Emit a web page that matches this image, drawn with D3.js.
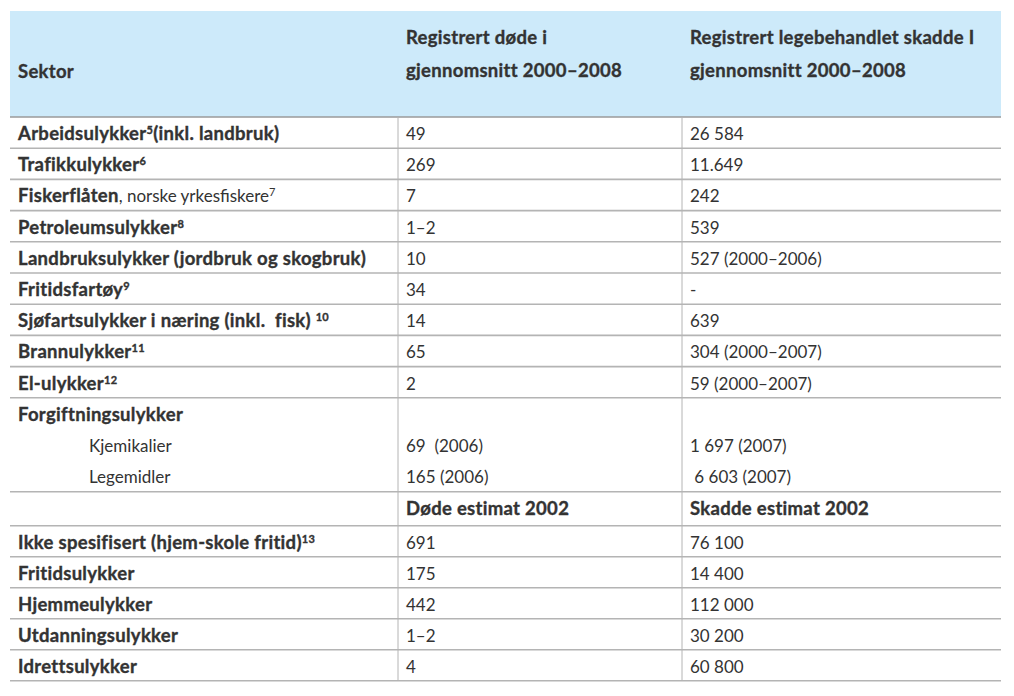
<!DOCTYPE html>
<html>
<head>
<meta charset="utf-8">
<script src="https://cdnjs.cloudflare.com/ajax/libs/d3/7.8.5/d3.min.js"></script>
<style>
  body { margin: 0; background: #fff; }
  text { font-family: Lato, "Open Sans", sans-serif; fill: #333; white-space: pre; }
  .b { font-weight: bold; font-size: 18.5px; letter-spacing: 0.3px; stroke: #333; stroke-width: 0.35px; }
  .r { font-weight: normal; font-size: 17px; letter-spacing: 0; stroke: none; }
</style>
</head>
<body>
<script>
// Header texts
const headSector = "Sektor";
const headDeaths = ["Registrert døde i", "gjennomsnitt 2000–2008"];
const headInjuries = ["Registrert legebehandlet skadde I", "gjennomsnitt 2000–2008"];

// Registered 2000-2008
const sectors = ["Arbeidsulykker", "Trafikkulykker", "Fiskerflåten", "Petroleumsulykker",
                 "Landbruksulykker (jordbruk og skogbruk)", "Fritidsfartøy",
                 "Sjøfartsulykker i næring (inkl.  fisk) ", "Brannulykker", "El-ulykker"];
const sectorNotes = ["5", "6", "7", "8", "", "9", "10", "11", "12"];
const sectorTails = ["(inkl. landbruk)", "", "", "", "", "", "", "", ""];
const sectorExtra = ["", "", ", norske yrkesfiskere", "", "", "", "", "", ""];
const deaths = ["49", "269", "7", "1–2", "10", "34", "14", "65", "2"];
const injuries = ["26 584", "11.649", "242", "539", "527 (2000–2006)", "-", "639",
                  "304 (2000–2007)", "59 (2000–2007)"];

// Poisoning group
const poisonHead = "Forgiftningsulykker";
const poisonItems = ["Kjemikalier", "Legemidler"];
const poisonDeaths = ["69  (2006)", "165 (2006)"];
const poisonInjuries = ["1 697 (2007)", " 6 603 (2007)"];

// Estimates 2002
const estHead = ["Døde estimat 2002", "Skadde estimat 2002"];
const estSectors = ["Ikke spesifisert (hjem-skole fritid)", "Fritidsulykker", "Hjemmeulykker",
                    "Utdanningsulykker", "Idrettsulykker"];
const estNotes = ["13", "", "", "", ""];
const estDeaths = ["691", "175", "442", "1–2", "4"];
const estInjuries = ["76 100", "14 400", "112 000", "30 200", "60 800"];

const width = 1014, height = 696;
const left = 10, right = 1001, headTop = 11, headBottom = 117;
const rowH = 31.2, groupH = 94, subH = 34, estH = 31;

// build row list
const rows = [];
sectors.forEach(function (s, i) {
  rows.push({ type: "row", label: s, note: sectorNotes[i], tail: sectorTails[i], extra: sectorExtra[i],
              c2: deaths[i], c3: injuries[i], h: rowH });
});
rows.push({ type: "group", h: groupH });
rows.push({ type: "sub", h: subH });
estSectors.forEach(function (s, i) {
  rows.push({ type: "row", label: s, note: estNotes[i], tail: "", extra: "",
              c2: estDeaths[i], c3: estInjuries[i], h: estH });
});

const tops = [headBottom].concat(Array.from(d3.cumsum(rows, function (d) { return d.h; }), function (v) { return headBottom + v; }));
const yRow = d3.scaleOrdinal().domain(d3.range(rows.length + 1)).range(tops);

const x = d3.scaleOrdinal().domain(["c1", "c2", "c3"]).range([left, 398, 682]);
const pad = { c1: 8, c2: 8, c3: 8 };

const svg = d3.select("body").append("svg")
  .attr("width", width)
  .attr("height", height);

// header
svg.append("rect")
  .attr("x", left).attr("y", headTop)
  .attr("width", right - left).attr("height", headBottom - headTop)
  .attr("fill", "#cdeafa");

svg.append("text").attr("class", "b")
  .attr("x", x("c1") + pad.c1).attr("y", 78)
  .text(headSector);

[["c2", headDeaths], ["c3", headInjuries]].forEach(function (h) {
  svg.append("g").selectAll("text")
    .data(h[1]).enter().append("text").attr("class", "b")
    .attr("x", x(h[0]) + pad[h[0]])
    .attr("y", function (d, i) { return 44 + i * 33; })
    .text(function (d) { return d; });
});

// grid lines
const lines = svg.append("g");
lines.selectAll("line.h")
  .data(tops.slice(1)).enter().append("line")
  .attr("x1", left).attr("x2", right)
  .attr("y1", function (d) { return d; }).attr("y2", function (d) { return d; })
  .attr("stroke", "#b4b4b4").attr("stroke-width", 1.6);
lines.append("line")
  .attr("x1", left).attr("x2", right).attr("y1", headBottom).attr("y2", headBottom)
  .attr("stroke", "#9a9a9a").attr("stroke-width", 1.6);
lines.selectAll("line.v")
  .data(["c2", "c3"]).enter().append("line")
  .attr("x1", function (d) { return x(d); }).attr("x2", function (d) { return x(d); })
  .attr("y1", headBottom).attr("y2", tops[tops.length - 1])
  .attr("stroke", "#b4b4b4").attr("stroke-width", 1);

// cells
const body = svg.append("g");
rows.forEach(function (r, i) {
  const y0 = yRow(i);
  if (r.type === "row") {
    const t = body.append("text").attr("class", "b")
      .attr("x", x("c1") + pad.c1).attr("y", y0 + 23);
    t.append("tspan").text(r.label);
    if (r.extra) t.append("tspan").attr("class", "r").text(r.extra);
    if (r.note) {
      t.append("tspan").attr("class", r.extra ? "r" : null)
        .style("font-size", "11px").attr("dy", -6).text(r.note);
      if (r.tail) t.append("tspan").attr("dy", 6).text(r.tail);
    }
    body.append("text").attr("class", "r").attr("x", x("c2") + pad.c2).attr("y", y0 + 23).text(r.c2);
    body.append("text").attr("class", "r").attr("x", x("c3") + pad.c3).attr("y", y0 + 23).text(r.c3);
  } else if (r.type === "group") {
    body.append("text").attr("class", "b").attr("x", x("c1") + pad.c1).attr("y", y0 + 23)
      .text(poisonHead);
    poisonItems.forEach(function (p, j) {
      const yy = y0 + 23 + (j + 1) * 31.2;
      body.append("text").attr("class", "r").attr("x", 89).attr("y", yy).text(p);
      body.append("text").attr("class", "r").attr("x", x("c2") + pad.c2).attr("y", yy).text(poisonDeaths[j]);
      body.append("text").attr("class", "r").attr("x", x("c3") + pad.c3).attr("y", yy).text(poisonInjuries[j]);
    });
  } else {
    body.append("text").attr("class", "b").attr("x", x("c2") + pad.c2).attr("y", y0 + 23)
      .text(estHead[0]);
    body.append("text").attr("class", "b").attr("x", x("c3") + pad.c3).attr("y", y0 + 23)
      .text(estHead[1]);
  }
});
</script>
</body>
</html>
